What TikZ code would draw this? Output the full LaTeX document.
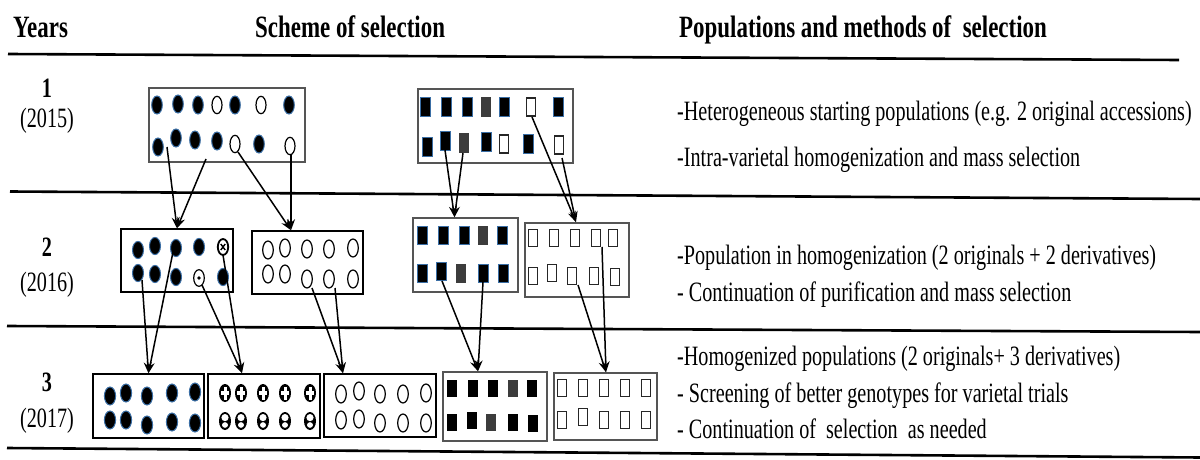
\documentclass[tikz,border=0pt]{standalone}
\usepackage{fontspec}
\setmainfont{Liberation Serif}
\newfontfamily\bodyfont[FakeStretch=0.72]{Liberation Serif}
\newfontfamily\headfont[FakeStretch=0.74]{Liberation Serif}
\usetikzlibrary{arrows.meta}
\definecolor{dotblue}{HTML}{3A6EA5}
\definecolor{sqgray}{HTML}{3C3C3C}
\definecolor{boxgray}{HTML}{555555}
\tikzset{
  headtxt/.style={inner sep=0pt, anchor=base west, font=\headfont\bfseries\fontsize{31}{31}\selectfont},
  bodytxt/.style={inner sep=0pt, anchor=base west, font=\bodyfont\fontsize{28}{32}\selectfont},
  yeartxt/.style={inner sep=0pt, font=\bodyfont\fontsize{28}{32}\selectfont},
  yearnum/.style={inner sep=0pt, font=\bodyfont\bfseries\fontsize{28}{32}\selectfont},
  div/.style={line width=2.6pt, black},
  boxk/.style={draw=black, line width=1.5pt, fill=white, inner sep=0pt},
  boxg/.style={draw=boxgray, line width=1.5pt, fill=white, inner sep=0pt},
  conn/.style={-{Stealth[length=11pt,width=8pt]}, line width=1.5pt, black},
  fdot/.style={fill=black, draw=dotblue, line width=1pt},
  odot/.style={fill=white, draw=black, line width=1.2pt},
  fsq/.style={fill=black, draw=dotblue, line width=1pt},
  gsq/.style={fill=sqgray},
  ksq/.style={fill=black},
  osq/.style={fill=white, draw=black!85, line width=1.2pt}
}
\begin{document}
\begin{tikzpicture}[x=1pt,y=-1pt]
\useasboundingbox (0,0) rectangle (1200,460);
\fill[white] (0,0) rectangle (1200,460);

% headers
\node[headtxt] (hYears) at (13,38) {Years};
\node[headtxt] (hScheme) at (255,38) {Scheme of selection};
\node[headtxt] (hPop) at (679,38) {Populations and methods of\ \ selection};

% dividers
\draw[div] (8,54) -- (1179,60);
\draw[div] (10,191.5) -- (1200,199);
\draw[div] (7,326) -- (1200,332);
\draw[div] (7,448) -- (1200,457.5);

% year labels
\node[yearnum] (y1) at (47,88) {1};
\node[yeartxt] (y1b) at (47,121) {(2015)};
\node[yearnum] (y2) at (47,247) {2};
\node[yeartxt] (y2b) at (47,285) {(2016)};
\node[yearnum] (y3) at (47,382) {3};
\node[yeartxt] (y3b) at (47,421) {(2017)};

% right texts
\node[bodytxt] (t11) at (677,121) {-Heterogeneous starting populations (e.g. 2 original accessions)};
\node[bodytxt] (t12) at (677,166) {-Intra-varietal homogenization and mass selection};
\node[bodytxt] (t21) at (677,264) {-Population in homogenization (2 originals + 2 derivatives)};
\node[bodytxt] (t22) at (677,301) {- Continuation of purification and mass selection};
\node[bodytxt] (t31) at (677,365) {-Homogenized populations (2 originals+ 3 derivatives)};
\node[bodytxt] (t32) at (677,402) {- Screening of better genotypes for varietal trials};
\node[bodytxt] (t33) at (677,438) {- Continuation of\ \ selection\ \ as needed};

% boxes
\node[boxg, minimum width=156pt, minimum height=74pt] (A1) at (227,125) {};
\node[boxg, minimum width=155pt, minimum height=74pt] (B1) at (495.5,126) {};
\node[boxk, minimum width=112pt, minimum height=63pt] (A2) at (177,260.5) {};
\node[boxk, minimum width=111pt, minimum height=63pt] (B2) at (307.5,262.5) {};
\node[boxg, minimum width=105pt, minimum height=74pt] (C2) at (465.5,255) {};
\node[boxg, minimum width=104pt, minimum height=74pt] (D2) at (577,260) {};
\node[boxk, minimum width=111pt, minimum height=64pt] (A3) at (148.5,406) {};
\node[boxk, minimum width=112pt, minimum height=64pt] (B3) at (264,406) {};
\node[boxk, minimum width=112pt, minimum height=63pt] (C3) at (380,405.5) {};
\node[boxg, minimum width=104pt, minimum height=69pt] (D3) at (495,406.5) {};
\node[boxg, minimum width=103pt, minimum height=67pt] (E3) at (605.5,406.5) {};

% ---- year 1 contents
\foreach \x/\y in {157/105,178/104,198/105,235/105,289/105,158/147,176/138,195/140,217/141,259/144}
  \path[fdot] (\x,\y) ellipse [x radius=5.3pt, y radius=9pt];
\foreach \x/\y in {217/105,261/105,235/144,290/146}
  \path[odot] (\x,\y) ellipse [x radius=5pt, y radius=8.7pt];
\foreach \x/\y in {425/107,446/107,467/107,504/107,558/107,427/147,445/141,486/142,528/144}
  \path[fsq] (\x-5,\y-9.5) rectangle (\x+5,\y+9.5);
\foreach \x/\y in {486/107,464/143}
  \path[gsq] (\x-5.3,\y-10) rectangle (\x+5.3,\y+10);
\foreach \x/\y in {531/107,504/144,559/145}
  \path[osq] (\x-4.5,\y-9) rectangle (\x+4.5,\y+9);

% ---- year 2 contents
\foreach \x/\y in {138/250,155/246,176/248,199/247,138/273,155/274,176/277,223/277}
  \path[fdot] (\x,\y) ellipse [x radius=5.5pt, y radius=8.6pt];
% special circles in A2
\path[fill=white, draw=black, line width=1.8pt] (223,247) ellipse [x radius=5.2pt, y radius=8pt];
\draw[line width=1.4pt] (220.8,244) -- (225.2,250) (225.2,244) -- (220.8,250);
\path[odot] (199,278) ellipse [x radius=5.3pt, y radius=8.3pt];
\fill[black] (199,278) circle [radius=1.8pt];
\foreach \x/\y in {268/250,285/248,307/249,329/249,353/248,268/274,285/274,307/279,329/279,353/279}
  \path[odot] (\x,\y) ellipse [x radius=5.3pt, y radius=9pt];
\foreach \x/\y in {422/235,443/235,464/235,502/235,422/273,441/271,483/273,503/273}
  \path[fsq] (\x-5,\y-9) rectangle (\x+5,\y+9);
\foreach \x/\y in {483/235,461/273}
  \path[gsq] (\x-5.3,\y-9.5) rectangle (\x+5.3,\y+9.5);
\foreach \x/\y in {533/238,554/238,575/238,596/238,613/238,533/276,552/273,572/276,594/276,615/277}
  \path[osq] (\x-4.8,\y-8.6) rectangle (\x+4.8,\y+8.6);

% ---- year 3 contents
\foreach \x/\y in {110/396,126/393,147/396,172/393,195/392,110/420,126/420,147/425,172/422,195/423}
  \path[fdot] (\x,\y) ellipse [x radius=5.6pt, y radius=9pt];
\foreach \x in {225,241,263,285,310} {
  \fill[black] (\x,393) ellipse [x radius=6pt, y radius=9pt];
  \fill[white] (\x-1.5,393-6.5) rectangle (\x+1.5,393+6.5);
  \fill[white] (\x-4,393-2) rectangle (\x+4,393+2);
}
\foreach \x in {225,241,263,285,310} {
  \fill[black] (\x,421) ellipse [x radius=6pt, y radius=9pt];
  \fill[white] (\x,421-3.4) ellipse [x radius=3.6pt, y radius=3.6pt];
  \fill[white] (\x,421+4) ellipse [x radius=3pt, y radius=2.8pt];
}
\foreach \x/\y in {341/394,359/391,380/394,403/394,426/393,341/420,359/419,380/423,403/423,426/423}
  \path[odot] (\x,\y) ellipse [x radius=5.3pt, y radius=9pt];
\foreach \x/\y in {452/388,473/388,493/388,532/388,452/422,472/420,513/422,533/423}
  \path[ksq] (\x-5,\y-8.5) rectangle (\x+5,\y+8.5);
\foreach \x/\y in {513/388,491/422}
  \path[gsq] (\x-5,\y-8.5) rectangle (\x+5,\y+8.5);
\foreach \x/\y in {562/388,583/388,604/388,625/388,646/388,562/420,583/417,604/420,625/420,646/420}
  \path[osq] (\x-4.8,\y-8.5) rectangle (\x+4.8,\y+8.5);

% ---- connector start points
\coordinate (s1) at (167,147);
\coordinate (s2) at (206,159);
\coordinate (s3) at (238,152);
\coordinate (s4) at (291,154);
\coordinate (s5) at (445,150);
\coordinate (s6) at (463,153);
\coordinate (s7) at (532,117);
\coordinate (s8) at (562,158);
\coordinate (s9) at (142,280);
\coordinate (s10) at (173,252);
\coordinate (s11) at (202,285);
\coordinate (s12) at (223,255);
\coordinate (s13) at (312,288);
\coordinate (s14) at (335,288);
\coordinate (s15) at (442,281);
\coordinate (s16) at (483,282);
\coordinate (s17) at (578,285);
\coordinate (s18) at (602,247);

% ---- connectors
\draw[conn] (s1) -- (A2.north);
\draw[conn] (s2) -- (A2.north);
\draw[conn] (s3) -- ([xshift=-16.5pt]B2.north);
\draw[conn] (s4) -- ([xshift=-16.5pt]B2.north);
\draw[conn] (s5) -- ([xshift=-11pt]C2.north);
\draw[conn] (s6) -- ([xshift=-11pt]C2.north);
\draw[conn] (s7) -- ([xshift=-1pt]D2.north);
\draw[conn] (s8) -- ([xshift=-1pt]D2.north);
\draw[conn] (s9) -- (A3.north);
\draw[conn] (s10) -- (A3.north);
\draw[conn] (s11) -- ([xshift=-22pt]B3.north);
\draw[conn] (s12) -- ([xshift=-22pt]B3.north);
\draw[conn] (s13) -- ([xshift=-37pt]C3.north);
\draw[conn] (s14) -- ([xshift=-37pt]C3.north);
\draw[conn] (s15) -- ([xshift=-17pt]D3.north);
\draw[conn] (s16) -- ([xshift=-17pt]D3.north);
\draw[conn] (s17) -- ([xshift=0.5pt]E3.north);
\draw[conn] (s18) -- ([xshift=0.5pt]E3.north);
\end{tikzpicture}
\end{document}
